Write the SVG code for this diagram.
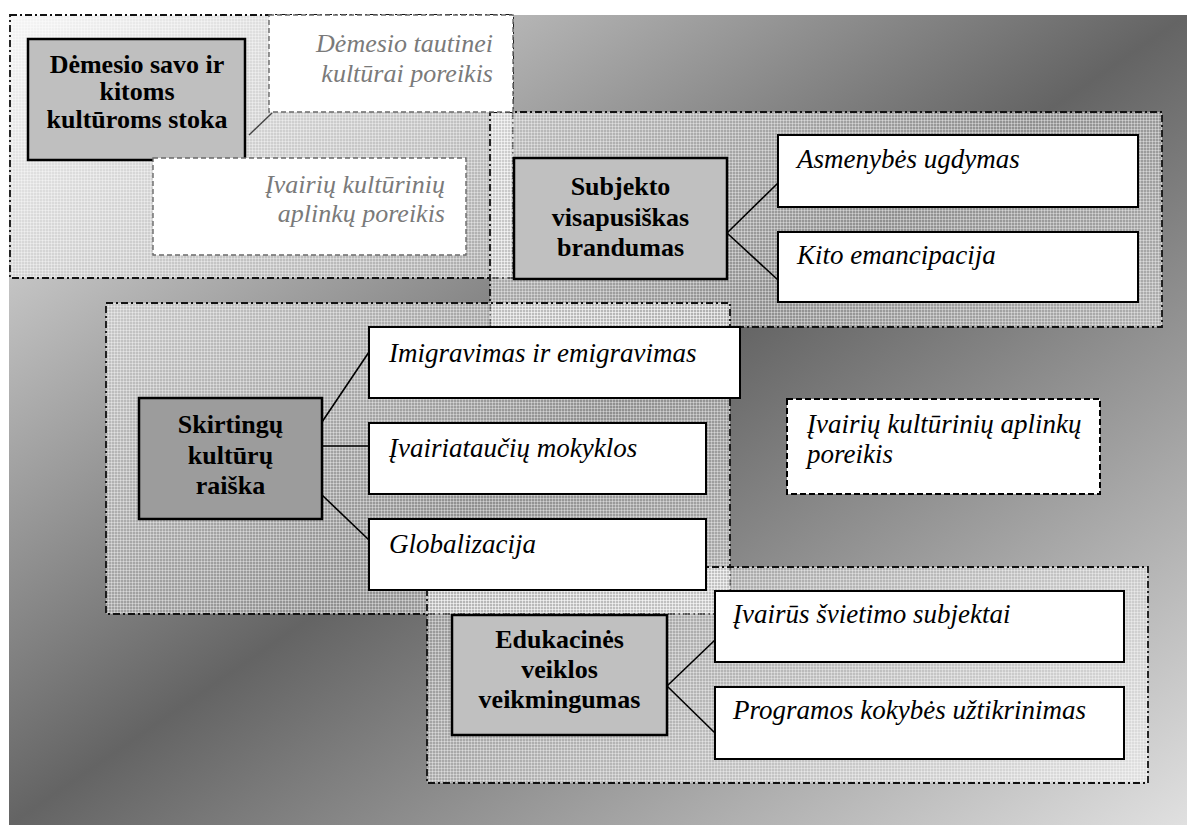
<svg xmlns="http://www.w3.org/2000/svg" width="1187" height="825" viewBox="0 0 1187 825">
  <defs>
    <linearGradient id="bgShade" x1="0" y1="0" x2="1" y2="1">
      <stop offset="0" stop-color="#f2f2f2"/>
      <stop offset="0.5" stop-color="#646464"/>
      <stop offset="1" stop-color="#e0e0e0"/>
    </linearGradient>
    <pattern id="grid" width="3" height="3" patternUnits="userSpaceOnUse">
      <rect width="3" height="3" fill="#ffffff" fill-opacity="0.28"/>
      <path d="M0 0.5H3M0.5 0V3" stroke="#ffffff" stroke-opacity="0.35" stroke-width="1"/>
    </pattern>
    <style>
      .panel { fill: url(#grid); stroke: #111; stroke-width: 1.8; stroke-dasharray: 7 3 2 3; }
      .core { stroke: #000; stroke-width: 2.5; }
      .leaf { fill: #fff; stroke: #000; stroke-width: 2; }
      .soft { fill: #fff; stroke: #6a6a6a; stroke-width: 1.4; stroke-dasharray: 5 3; }
      .open { fill: #fff; stroke: #000; stroke-width: 2; stroke-dasharray: 6 3; }
      .bold { font-weight: bold; font-size: 26px; fill: #000; text-anchor: middle; }
      .ital { font-style: italic; font-size: 27px; fill: #000; }
      .faded { font-style: italic; font-size: 26px; fill: #7a7a7a; text-anchor: end; }
      .link { stroke: #000; stroke-width: 1.6; fill: none; }
      .link-soft { stroke: #444; stroke-width: 1.4; fill: none; }
    </style>
  </defs>

  <!-- shaded backdrop -->
  <rect x="9" y="15" width="1178" height="810" fill="url(#bgShade)"/>

  <!-- textured group panels -->
  <g id="panels">
    <rect id="panel-attention" class="panel" x="10" y="15" width="503" height="263"/>
    <rect id="panel-subject" class="panel" x="490" y="112" width="672" height="215"/>
    <rect id="panel-cultures" class="panel" x="106" y="303" width="624" height="311"/>
    <rect id="panel-education" class="panel" x="427" y="567" width="721" height="216"/>
  </g>

  <!-- connectors -->
  <g id="connectors">
    <line class="link-soft" x1="249" y1="135" x2="272" y2="113"/>
    <line class="link-soft" x1="180" y1="161" x2="227" y2="207"/>
    <line class="link" x1="727" y1="233" x2="778" y2="183"/>
    <line class="link" x1="727" y1="233" x2="778" y2="280"/>
    <line class="link" x1="322" y1="422" x2="369" y2="352"/>
    <line class="link" x1="322" y1="446" x2="369" y2="446"/>
    <line class="link" x1="322" y1="495" x2="369" y2="540"/>
    <line class="link" x1="667" y1="686" x2="715" y2="640"/>
    <line class="link" x1="667" y1="686" x2="715" y2="733"/>
  </g>

  <g id="nodes" font-family="'Liberation Serif', 'Times New Roman', 'DejaVu Serif', serif">
  <!-- attention to own and other cultures -->
  <g id="node-attention">
    <rect class="core" x="28" y="39" width="217" height="121" fill="#bfbfbf"/>
    <text class="bold" font-size="24" x="137" y="73">Dėmesio savo ir</text>
    <text class="bold" font-size="24" x="137" y="100">kitoms</text>
    <text class="bold" font-size="24" x="137" y="128">kultūroms stoka</text>
  </g>
  <g id="node-national">
    <rect class="soft" x="269" y="15" width="244" height="97"/>
    <text class="faded" x="493" y="52">Dėmesio tautinei</text>
    <text class="faded" x="493" y="82">kultūrai poreikis</text>
  </g>
  <g id="node-environments">
    <rect class="soft" x="153" y="158" width="313" height="97"/>
    <text class="faded" x="445" y="193">Įvairių kultūrinių</text>
    <text class="faded" x="445" y="222">aplinkų poreikis</text>
  </g>

  <!-- subject maturity -->
  <g id="node-subject">
    <rect class="core" x="514" y="158" width="213" height="121" fill="#c0c0c0"/>
    <text class="bold" x="620.5" y="195">Subjekto</text>
    <text class="bold" x="620.5" y="225.5">visapusiškas</text>
    <text class="bold" x="620.5" y="256">brandumas</text>
  </g>
  <g id="node-personality">
    <rect class="leaf" x="778" y="135" width="360" height="72"/>
    <text class="ital" x="797" y="168">Asmenybės ugdymas</text>
  </g>
  <g id="node-emancipation">
    <rect class="leaf" x="778" y="232" width="360" height="70"/>
    <text class="ital" x="797" y="264">Kito emancipacija</text>
  </g>

  <!-- expression of different cultures -->
  <g id="node-cultures">
    <rect class="core" x="139" y="398" width="183" height="121" fill="#9c9c9c"/>
    <text class="bold" x="230.5" y="433">Skirtingų</text>
    <text class="bold" x="230.5" y="463.5">kultūrų</text>
    <text class="bold" x="230.5" y="494">raiška</text>
  </g>
  <g id="node-migration">
    <rect class="leaf" x="369" y="327" width="371" height="71"/>
    <text class="ital" x="389" y="362">Imigravimas ir emigravimas</text>
  </g>
  <g id="node-schools">
    <rect class="leaf" x="369" y="423" width="337" height="71"/>
    <text class="ital" x="389" y="457">Įvairiataučių mokyklos</text>
  </g>
  <g id="node-globalization">
    <rect class="leaf" x="369" y="519" width="337" height="71"/>
    <text class="ital" x="389" y="553">Globalizacija</text>
  </g>

  <!-- educational effectiveness -->
  <g id="node-education">
    <rect class="core" x="452" y="615" width="215" height="120" fill="#c0c0c0"/>
    <text class="bold" x="559.5" y="648">Edukacinės</text>
    <text class="bold" x="559.5" y="678">veiklos</text>
    <text class="bold" x="559.5" y="708">veikmingumas</text>
  </g>
  <g id="node-actors">
    <rect class="leaf" x="715" y="591" width="409" height="71"/>
    <text class="ital" x="733" y="623">Įvairūs švietimo subjektai</text>
  </g>
  <g id="node-quality">
    <rect class="leaf" x="715" y="687" width="409" height="72"/>
    <text class="ital" x="733" y="719">Programos kokybės užtikrinimas</text>
  </g>

  <!-- free-standing need -->
  <g id="node-environments-need">
    <rect class="open" x="787" y="399" width="313" height="95"/>
    <text class="ital" x="807" y="433">Įvairių kultūrinių aplinkų</text>
    <text class="ital" x="807" y="463">poreikis</text>
  </g>
  </g>
</svg>
